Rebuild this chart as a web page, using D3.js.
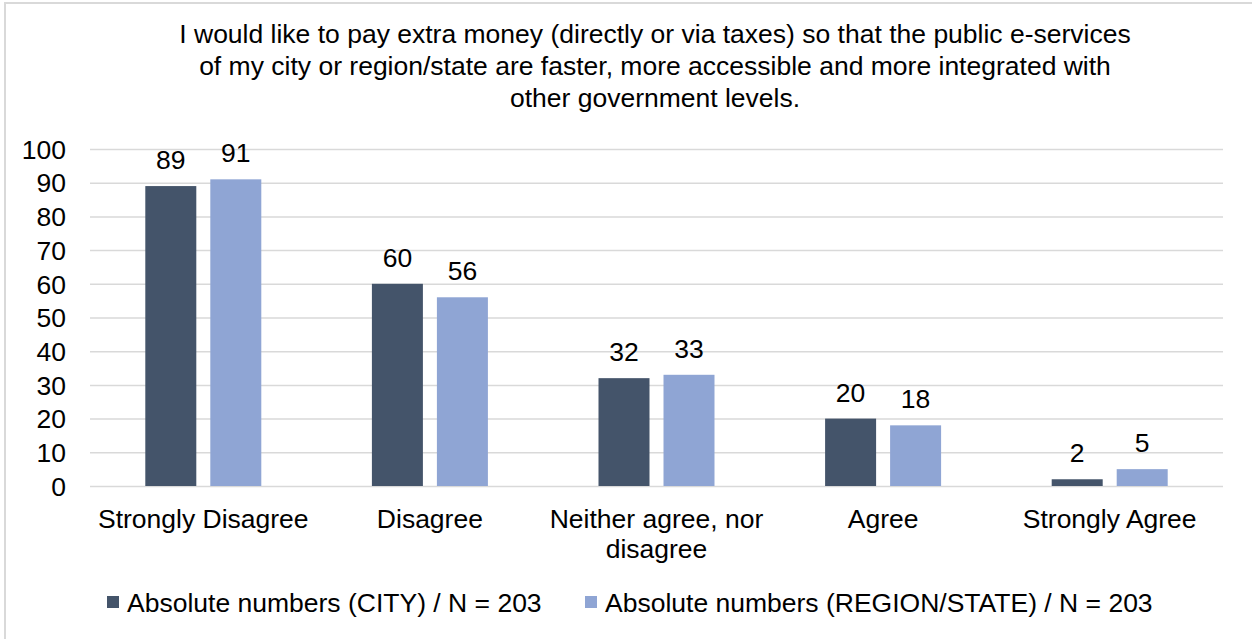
<!DOCTYPE html>
<html>
<head>
<meta charset="utf-8">
<script src="https://cdn.jsdelivr.net/npm/d3@7"></script>
<style>
body { margin: 0; background: #fff; }
svg text { font-family: "Liberation Sans", Arial, sans-serif; fill: #000; }
</style>
</head>
<body>
<div id="chart"></div>
<script>
var categories = [["Strongly Disagree"], ["Disagree"], ["Neither agree, nor", "disagree"], ["Agree"], ["Strongly Agree"]];
var seriesNames = ["Absolute numbers (CITY) / N = 203", "Absolute numbers (REGION/STATE) / N = 203"];
var cityValues = [89, 60, 32, 20, 2];
var regionValues = [91, 56, 33, 18, 5];
var yTicks = [0, 10, 20, 30, 40, 50, 60, 70, 80, 90, 100];
var subtitle = [
  "I would like to pay extra money (directly or via taxes) so that the public e-services",
  "of my city or region/state are faster, more accessible and more integrated with",
  "other government levels."
];
var colors = ["#44546a", "#8fa5d4"];

var W = 1252, H = 639;
var fs = "26.5px";
var margin = {top: 149, right: 29, bottom: 153, left: 90};
var width = W - margin.left - margin.right,
    height = H - margin.top - margin.bottom;

var svg = d3.select("#chart").append("svg").attr("width", W).attr("height", H);

// outer frame (cut off at right/bottom like the source)
svg.append("rect")
    .attr("x", 5).attr("y", 3)
    .attr("width", W).attr("height", H)
    .attr("fill", "none")
    .attr("stroke", "#d9d9d9")
    .attr("stroke-width", 2);

svg.append("g").selectAll("text")
    .data(subtitle)
    .enter().append("text")
    .attr("x", 655)
    .attr("y", function(d, i) { return 43 + i * 32; })
    .attr("text-anchor", "middle")
    .style("font-size", fs)
    .text(function(d) { return d; });

var g = svg.append("g").attr("transform", "translate(" + margin.left + "," + margin.top + ")");

var x = d3.scaleBand().domain(d3.range(categories.length)).range([0, width]);
var y = d3.scaleLinear().domain([0, 100]).range([height, 0]);

// gridlines
g.append("g")
    .attr("class", "grid")
    .call(d3.axisLeft(y).tickValues(yTicks).tickSize(-width).tickFormat(""))
    .call(function(s) {
        s.select(".domain").remove();
        s.selectAll("line").attr("stroke", "#d9d9d9").attr("stroke-width", 1.5);
    });

// y axis labels
g.append("g")
    .call(d3.axisLeft(y).tickValues(yTicks).tickSize(0).tickPadding(24))
    .call(function(s) {
        s.select(".domain").remove();
        s.selectAll("text").style("font-size", fs).attr("dy", "0.35em");
    });

var barW = 51, offset = 32.5;
var series = [cityValues, regionValues];

series.forEach(function(vals, si) {
    var sg = g.append("g");
    sg.selectAll("rect")
        .data(vals)
        .enter().append("rect")
        .attr("x", function(d, i) { return x(i) + x.bandwidth() / 2 + (si === 0 ? -offset : offset) - barW / 2; })
        .attr("y", function(d) { return y(d); })
        .attr("width", barW)
        .attr("height", function(d) { return height - y(d); })
        .attr("fill", colors[si]);
    sg.selectAll("text")
        .data(vals)
        .enter().append("text")
        .attr("x", function(d, i) { return x(i) + x.bandwidth() / 2 + (si === 0 ? -offset : offset); })
        .attr("y", function(d) { return y(d) - 17; })
        .attr("text-anchor", "middle")
        .style("font-size", fs)
        .text(function(d) { return d; });
});

// category labels
var xl = g.append("g").attr("transform", "translate(0," + height + ")");
xl.selectAll("text")
    .data(categories)
    .enter().append("text")
    .attr("x", function(d, i) { return x(i) + x.bandwidth() / 2; })
    .attr("text-anchor", "middle")
    .style("font-size", fs)
    .each(function(d) {
        var t = d3.select(this);
        d.forEach(function(line, li) {
            t.append("tspan")
                .attr("x", t.attr("x"))
                .attr("y", 41.5 + li * 30)
                .text(line);
        });
    });

// legend
var legendX = [107, 585];
var lg = svg.append("g").attr("transform", "translate(0,602)");
seriesNames.forEach(function(name, i) {
    lg.append("rect")
        .attr("x", legendX[i]).attr("y", -6)
        .attr("width", 12).attr("height", 12)
        .attr("fill", colors[i]);
    lg.append("text")
        .attr("x", legendX[i] + 20)
        .attr("y", 9.5)
        .style("font-size", fs)
        .text(name);
});
</script>
</body>
</html>
